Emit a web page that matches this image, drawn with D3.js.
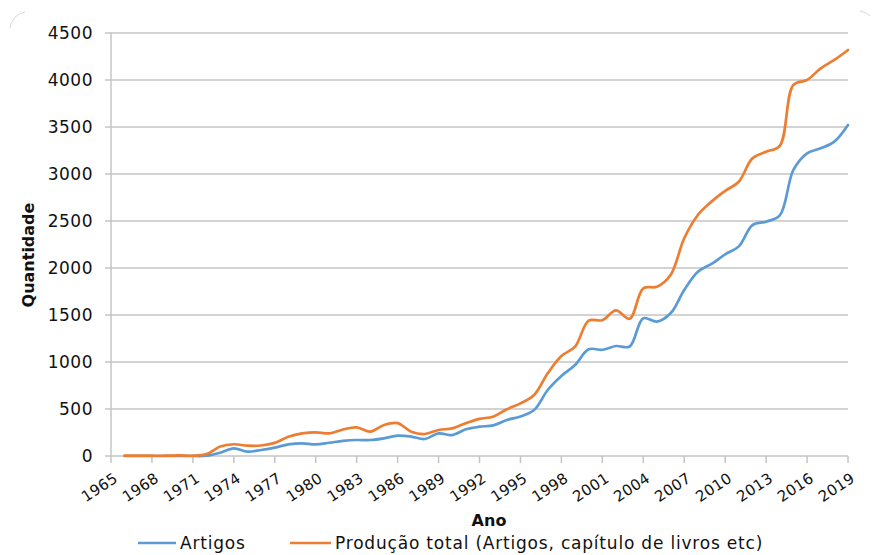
<!DOCTYPE html>
<html><head><meta charset="utf-8">
<script src="https://cdn.jsdelivr.net/npm/d3@7"></script>
<style>
html,body{margin:0;padding:0;background:#fff;}
svg{display:block;font-family:"DejaVu Sans",sans-serif;}
</style></head>
<body><svg id="chart" width="872" height="555"></svg>
<script>
const years = d3.range(1966, 2020);
const artigos = [0,0,0,0,0,0,3,35,82,46,64,89,124,135,124,141,160,170,170,188,216,206,181,241,223,284,312,326,383,420,489,702,851,968,1135,1130,1170,1165,1465,1429,1518,1766,1961,2043,2145,2230,2457,2493,2560,3043,3220,3273,3344,3521];
const producao = [3,3,3,3,6,3,20,100,125,110,112,140,205,240,252,241,282,305,259,330,350,259,234,277,294,348,395,418,497,560,649,880,1064,1163,1440,1445,1550,1460,1784,1801,1926,2316,2564,2706,2820,2918,3167,3237,3300,3947,4000,4124,4213,4319];
const yTicks = [0,500,1000,1500,2000,2500,3000,3500,4000,4500];
const xTicks = d3.range(1965, 2020, 3);
const seriesNames = ["Artigos", "Produção total (Artigos, capítulo de livros etc)"];
const colors = ["#5B9BD5", "#ED7D31"];

const svg = d3.select("#chart");
const m = {left:111, right:848, top:33, bottom:456};
const x = d3.scaleLinear().domain([1965, 2019]).range([m.left, m.right]);
const y = d3.scaleLinear().domain([0, 4500]).range([m.bottom, m.top]);

// faint corner decorations
svg.append("path").attr("d","M10,28 A18,18 0 0 1 25,12").attr("fill","none").attr("stroke","#d8d8d8").attr("stroke-width",1);
svg.append("path").attr("d","M860,11 A18,18 0 0 1 870,16").attr("fill","none").attr("stroke","#d8d8d8").attr("stroke-width",1);

// gridlines
svg.append("g").selectAll("line").data(yTicks).join("line")
  .attr("x1", m.left-6).attr("x2", m.right)
  .attr("y1", d=>y(d)).attr("y2", d=>y(d))
  .attr("stroke", "#c4c4c4").attr("stroke-width", 1.5);

// y axis line
svg.append("line").attr("x1",m.left).attr("x2",m.left).attr("y1",m.top).attr("y2",m.bottom)
  .attr("stroke","#c4c4c4").attr("stroke-width",1.5);

// y labels
svg.append("g").selectAll("text").data(yTicks).join("text")
  .attr("x", 93).attr("y", d=>y(d)).attr("dy","0.36em")
  .attr("text-anchor","end").attr("font-size",17).attr("letter-spacing","0.5px").attr("fill","#111")
  .text(d=>d);

// x ticks
svg.append("g").selectAll("line").data(xTicks).join("line")
  .attr("x1", d=>x(d)).attr("x2", d=>x(d)).attr("y1", m.bottom).attr("y2", m.bottom+7)
  .attr("stroke","#c4c4c4").attr("stroke-width",1.5);

// x labels
svg.append("g").selectAll("text").data(xTicks).join("text")
  .attr("transform", d=>`translate(${x(d)+2},${m.bottom+16}) rotate(-33)`)
  .attr("text-anchor","end").attr("dy","0.71em").attr("font-size",15).attr("letter-spacing","0.3px").attr("fill","#111")
  .text(d=>d);

// axis titles
svg.append("text").attr("transform","translate(34,255) rotate(-90)")
  .attr("text-anchor","middle").attr("font-size",16).attr("font-weight","bold").attr("fill","#111")
  .text("Quantidade");
svg.append("text").attr("x",489).attr("y",526)
  .attr("text-anchor","middle").attr("font-size",16).attr("font-weight","bold").attr("fill","#111")
  .text("Ano");

// lines
const line = d3.line().x((d,i)=>x(years[i])).y(d=>y(d)).curve(d3.curveCatmullRom.alpha(0.5));
[artigos, producao].forEach((s,k)=>{
  svg.append("path").datum(s).attr("d", line).attr("fill","none")
    .attr("stroke", colors[k]).attr("stroke-width", 2.7).attr("stroke-linejoin","round").attr("stroke-linecap","round");
});

// legend
const leg = [{x1:138,x2:176,tx:180},{x1:290,x2:331,tx:335}];
leg.forEach((l,k)=>{
  svg.append("line").attr("x1",l.x1).attr("x2",l.x2).attr("y1",543).attr("y2",543)
    .attr("stroke",colors[k]).attr("stroke-width",2.7);
  svg.append("text").attr("x",l.tx).attr("y",543).attr("dy","0.36em")
    .attr("font-size",17).attr("letter-spacing","0.8px").attr("fill","#111").text(seriesNames[k]);
});
</script>
</body></html>
